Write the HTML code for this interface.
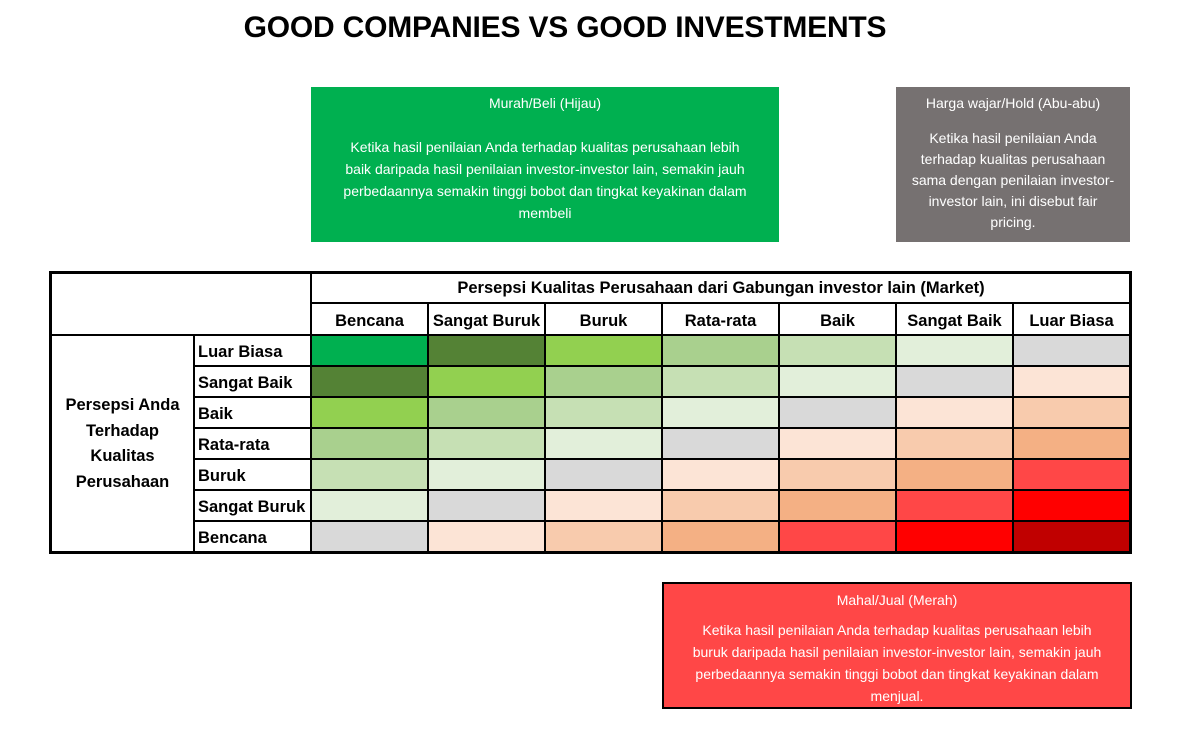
<!DOCTYPE html>
<html><head><meta charset="utf-8"><style>
body{margin:0;width:1183px;height:733px;background:#fff;position:relative;overflow:hidden;font-family:"Liberation Sans",sans-serif}
.a{position:absolute}
.title{left:0;width:1130px;top:11px;text-align:center;font-weight:bold;font-size:30px;color:#000;letter-spacing:-0.2px}
.box{color:#fff;font-size:14px;text-align:center;box-sizing:border-box}
.box div{white-space:nowrap}
.c{position:absolute;box-sizing:border-box}
.t{position:absolute;font-weight:bold;font-size:16.5px;color:#000;white-space:nowrap}
</style></head><body>
<div class="a title">GOOD COMPANIES VS GOOD INVESTMENTS</div>

<div class="a box" style="left:311px;top:87px;width:468px;height:155px;background:#00B050;">
<div style="position:absolute;top:6px;width:100%;line-height:20px">Murah/Beli (Hijau)</div>
<div style="position:absolute;top:49px;width:100%;line-height:22px">Ketika hasil penilaian Anda terhadap kualitas perusahaan lebih<br>baik daripada hasil penilaian investor-investor lain, semakin jauh<br>perbedaannya semakin tinggi bobot dan tingkat keyakinan dalam<br>membeli</div>
</div>

<div class="a box" style="left:896px;top:87px;width:234px;height:155px;background:#767171;">
<div style="position:absolute;top:6px;width:100%;line-height:20px">Harga wajar/Hold (Abu-abu)</div>
<div style="position:absolute;top:41px;width:100%;line-height:21px;font-size:14px">Ketika hasil penilaian Anda<br>terhadap kualitas perusahaan<br>sama dengan penilaian investor-<br>investor lain, ini disebut fair<br>pricing.</div>
</div>

<div class="a box" style="left:662px;top:582px;width:470px;height:127px;background:#FF4747;border:2px solid #000;">
<div style="position:absolute;top:6px;width:100%;line-height:20px">Mahal/Jual (Merah)</div>
<div style="position:absolute;top:35px;width:100%;line-height:22px">Ketika hasil penilaian Anda terhadap kualitas perusahaan lebih<br>buruk daripada hasil penilaian investor-investor lain, semakin jauh<br>perbedaannya semakin tinggi bobot dan tingkat keyakinan dalam<br>menjual.</div>
</div>

<div id="tbl"></div>
<script>
var cols=[311,428,545,662,779,896,1013,1130];
var rows=[335,366,397,428,459,490,521,552];
var pal=["#00B050","#548235","#92D050","#A9D08E","#C6E0B4","#E2EFDA","#D9D9D9","#FCE4D6","#F8CBAD","#F4B084","#FF4747","#FF0000","#C00000"];
var h="";
for(var r=0;r<7;r++)for(var c=0;c<7;c++){
h+='<div class="c" style="left:'+cols[c]+'px;top:'+rows[r]+'px;width:'+(cols[c+1]-cols[c])+'px;height:'+(rows[r+1]-rows[r])+'px;background:'+pal[r+c]+'"></div>';
}
function L(x,y,w,hh){h+='<div class="c" style="left:'+x+'px;top:'+y+'px;width:'+w+'px;height:'+hh+'px;background:#000"></div>';}
L(49,271,1083,3);L(49,551,1083,3);L(49,271,3,283);L(1129,271,3,283);
L(310,271,2,283);L(310,302,821,2);L(49,334,1083,2);
for(var i=1;i<7;i++)L(cols[i]-1,302,2,251);
L(193,334,2,219);
for(var j=1;j<7;j++)L(193,rows[j]-1,938,2);
var heads=["Bencana","Sangat Buruk","Buruk","Rata-rata","Baik","Sangat Baik","Luar Biasa"];
for(var c=0;c<7;c++)h+='<div class="t" style="left:'+cols[c]+'px;width:117px;text-align:center;top:312px">'+heads[c]+'</div>';
var rl=["Luar Biasa","Sangat Baik","Baik","Rata-rata","Buruk","Sangat Buruk","Bencana"];
for(var r=0;r<7;r++)h+='<div class="t" style="left:198px;top:'+(rows[r]+8)+'px">'+rl[r]+'</div>';
h+='<div class="t" style="left:311px;width:820px;text-align:center;top:279px">Persepsi Kualitas Perusahaan dari Gabungan investor lain (Market)</div>';
h+='<div class="t" style="left:52px;width:141px;text-align:center;top:393px;line-height:25.7px;white-space:normal">Persepsi Anda<br>Terhadap<br>Kualitas<br>Perusahaan</div>';
document.getElementById("tbl").innerHTML=h;
</script>
</body></html>
